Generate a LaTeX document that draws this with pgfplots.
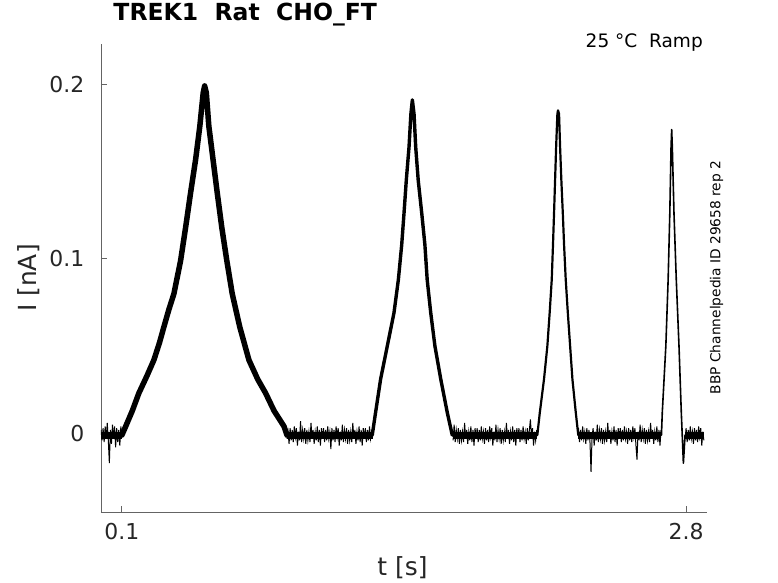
\documentclass[border=0pt]{standalone}
\usepackage{fontspec}
\setmainfont{DejaVu Sans}
\usepackage{pgfplots}
\pgfplotsset{compat=1.18}
\definecolor{axgray}{RGB}{100,100,100}
\definecolor{tickgray}{RGB}{38,38,38}
\begin{document}
\begin{tikzpicture}
\path[use as bounding box] (-101bp,-71bp) rectangle (677bp,512bp);
\begin{axis}[
  at={(0,0)}, anchor=south west,
  scale only axis, width=606bp, height=468bp,
  xmin=0, xmax=2.9, ymin=-0.045, ymax=0.223,
  axis lines*=left,
  axis line style={axgray, line width=0.8bp},
  tick align=inside,
  major tick length=6bp,
  tick style={axgray, line width=0.8bp},
  xtick={0.1,2.8}, ytick={0,0.1,0.2},
  xticklabels={0.1,2.8}, yticklabels={0,0.1,0.2},
  /pgf/number format/assume math mode=true,
  ticklabel style={font=\fontsize{22}{26}\selectfont, text=tickgray},
  xticklabel style={anchor=north, inner sep=0pt, yshift=-11.5bp},
  yticklabel style={anchor=east, inner sep=0pt, xshift=-16.5bp},
  xlabel={t [s]}, ylabel={I [nA]},
  label style={font=\fontsize{25}{30}\selectfont, text=tickgray, inner sep=0pt},
  xlabel style={at={(axis description cs:0.4975,-0.1186)}, anchor=center},
  ylabel style={at={(axis description cs:-0.1188,0.5)}, anchor=center},
  title={TREK1\ \ Rat\ \ CHO\_FT},
  title style={at={(axis description cs:0.0203,1.0385)}, anchor=base west, inner sep=0pt, font=\fontsize{23.6}{28}\selectfont\bfseries},
  unbounded coords=jump,
  clip=true,
]
% baseline core band
\addplot[black, line width=7bp] table {
0.000 -0.001
0.100 -0.001
0.102 nan
0.890 -0.001
1.300 -0.001
1.302 nan
1.685 -0.001
2.085 -0.001
2.087 nan
2.285 -0.001
2.680 -0.001
2.682 nan
2.795 -0.001
2.885 -0.001
};
% baseline noise segments
\addplot[black, line width=1bp] table {
0.000 0.002
0.005 -0.004
0.010 0.003
0.015 -0.005
0.020 0.004
0.025 -0.003
0.030 0.006
0.035 -0.004
0.040 -0.017
0.045 0.002
0.050 -0.006
0.055 0.005
0.060 -0.003
0.065 0.004
0.070 -0.008
0.075 0.003
0.080 -0.005
0.085 0.002
0.090 -0.007
0.095 0.004
0.100 -0.002
0.102 nan
0.890 -0.003
0.895 0.001
0.900 -0.006
0.905 0.003
0.910 -0.004
0.915 0.002
0.920 -0.005
0.925 0.004
0.930 -0.002
0.935 0.003
0.940 -0.007
0.945 0.001
0.950 -0.004
0.955 0.007
0.960 -0.005
0.965 0.002
0.970 -0.003
0.975 0.003
0.980 -0.006
0.985 0.002
0.990 -0.004
0.995 0.001
1.000 -0.005
1.005 0.006
1.010 -0.003
1.015 0.002
1.020 -0.006
1.025 0.001
1.030 -0.004
1.035 0.004
1.040 -0.005
1.045 0.002
1.050 -0.007
1.055 0.003
1.060 -0.003
1.065 0.003
1.070 -0.005
1.075 0.002
1.080 -0.004
1.085 0.004
1.090 -0.003
1.095 0.001
1.100 -0.009
1.105 0.003
1.110 -0.004
1.115 0.002
1.120 -0.005
1.125 0.004
1.130 -0.002
1.135 0.003
1.140 -0.007
1.145 0.001
1.150 -0.004
1.155 0.005
1.160 -0.005
1.165 0.002
1.170 -0.003
1.175 0.003
1.180 -0.006
1.185 0.002
1.190 -0.004
1.195 0.001
1.200 -0.005
1.205 0.006
1.210 -0.003
1.215 0.002
1.220 -0.006
1.225 0.001
1.230 -0.004
1.235 0.004
1.240 -0.005
1.245 0.002
1.250 -0.007
1.255 0.003
1.260 -0.003
1.265 0.003
1.270 -0.005
1.275 0.002
1.280 -0.004
1.285 0.004
1.290 -0.003
1.295 0.001
1.300 -0.002
1.302 nan
1.685 -0.004
1.690 0.005
1.695 -0.005
1.700 0.002
1.705 -0.003
1.710 0.003
1.715 -0.006
1.720 0.002
1.725 -0.004
1.730 0.001
1.735 -0.005
1.740 0.006
1.745 -0.003
1.750 0.002
1.755 -0.006
1.760 0.001
1.765 -0.004
1.770 0.004
1.775 -0.005
1.780 0.002
1.785 -0.007
1.790 0.003
1.795 -0.003
1.800 0.003
1.805 -0.005
1.810 0.002
1.815 -0.004
1.820 0.004
1.825 -0.003
1.830 0.001
1.835 -0.006
1.840 0.003
1.845 -0.004
1.850 0.002
1.855 -0.005
1.860 0.004
1.865 -0.002
1.870 0.003
1.875 -0.007
1.880 0.001
1.885 -0.004
1.890 0.005
1.895 -0.005
1.900 0.002
1.905 -0.003
1.910 0.003
1.915 -0.006
1.920 0.002
1.925 -0.004
1.930 0.001
1.935 -0.005
1.940 0.006
1.945 -0.003
1.950 0.002
1.955 -0.006
1.960 0.001
1.965 -0.004
1.970 0.004
1.975 -0.005
1.980 0.002
1.985 -0.007
1.990 0.003
1.995 -0.003
2.000 0.003
2.005 -0.005
2.010 0.002
2.015 -0.004
2.020 0.004
2.025 -0.003
2.030 0.001
2.035 -0.006
2.040 0.003
2.045 -0.004
2.050 0.002
2.055 0.008
2.060 -0.002
2.065 0.003
2.070 -0.007
2.075 0.001
2.080 -0.004
2.085 0.002
2.087 nan
2.285 0.003
2.290 -0.005
2.295 0.002
2.300 -0.004
2.305 0.004
2.310 -0.003
2.315 0.001
2.320 -0.006
2.325 0.003
2.330 -0.004
2.335 0.002
2.340 -0.005
2.345 -0.022
2.350 -0.002
2.355 0.003
2.360 -0.007
2.365 0.001
2.370 -0.004
2.375 0.005
2.380 -0.005
2.385 0.002
2.390 -0.003
2.395 0.003
2.400 -0.006
2.405 0.002
2.410 -0.004
2.415 0.001
2.420 -0.005
2.425 0.006
2.430 -0.003
2.435 0.002
2.440 -0.006
2.445 0.001
2.450 -0.004
2.455 0.004
2.460 -0.005
2.465 0.002
2.470 -0.007
2.475 0.003
2.480 -0.003
2.485 0.003
2.490 -0.005
2.495 0.002
2.500 -0.004
2.505 0.004
2.510 -0.003
2.515 0.001
2.520 -0.006
2.525 0.003
2.530 -0.004
2.535 0.002
2.540 -0.005
2.545 0.004
2.550 -0.002
2.555 0.003
2.560 -0.007
2.565 -0.015
2.570 0.001
2.575 -0.004
2.580 0.005
2.585 -0.005
2.590 0.002
2.595 -0.003
2.600 0.003
2.605 -0.006
2.610 0.002
2.615 -0.004
2.620 0.001
2.625 -0.005
2.630 0.006
2.635 -0.003
2.640 0.002
2.645 -0.006
2.650 0.001
2.655 -0.004
2.660 0.004
2.665 -0.005
2.670 0.002
2.675 -0.007
2.680 0.002
2.682 nan
2.795 -0.003
2.800 0.003
2.805 -0.005
2.810 0.002
2.815 -0.004
2.820 0.004
2.825 -0.003
2.830 0.001
2.835 -0.006
2.840 0.003
2.845 -0.004
2.850 0.002
2.855 -0.005
2.860 0.004
2.865 -0.002
2.870 0.003
2.875 -0.007
2.880 0.001
2.885 -0.004
};
% peak 1
\addplot[black, line width=5.5bp, line join=round, line cap=round] table {
0.100 -0.001
0.118 0.004
0.150 0.013
0.181 0.023
0.220 0.033
0.253 0.042
0.280 0.052
0.301 0.061
0.325 0.071
0.349 0.080
0.381 0.099
0.405 0.118
0.429 0.138
0.453 0.157
0.473 0.176
0.489 0.195
0.496 0.199
0.504 0.195
0.516 0.176
0.536 0.157
0.556 0.138
0.578 0.118
0.602 0.099
0.628 0.080
0.664 0.061
0.708 0.042
0.750 0.031
0.788 0.023
0.828 0.013
0.876 0.004
0.890 -0.001
};
% peak 2
\addplot[black, line width=3.4bp, line join=round, line cap=round] table {
1.298 -0.001
1.314 0.012
1.338 0.031
1.370 0.050
1.402 0.069
1.423 0.088
1.439 0.108
1.450 0.126
1.461 0.145
1.474 0.164
1.483 0.183
1.490 0.191
1.498 0.183
1.506 0.164
1.518 0.145
1.535 0.126
1.550 0.108
1.561 0.088
1.578 0.069
1.598 0.050
1.626 0.031
1.657 0.012
1.681 -0.001
};
% peak 3
\addplot[black, line width=2.2bp, line join=round, line cap=round] table {
2.088 -0.001
2.100 0.012
2.120 0.031
2.136 0.050
2.147 0.069
2.157 0.088
2.163 0.108
2.168 0.126
2.173 0.145
2.178 0.164
2.184 0.183
2.187 0.185
2.192 0.183
2.197 0.164
2.203 0.145
2.210 0.126
2.216 0.108
2.224 0.088
2.234 0.069
2.245 0.050
2.256 0.031
2.272 0.012
2.284 -0.001
};
% peak 4
\addplot[black, line width=1.6bp, line join=round, line cap=round] table {
2.682 -0.001
2.686 0.012
2.703 0.050
2.714 0.088
2.722 0.126
2.728 0.164
2.731 0.174
2.734 0.164
2.742 0.126
2.753 0.088
2.766 0.050
2.777 0.012
2.787 -0.017
2.795 -0.001
};
\end{axis}
\node[anchor=base east, inner sep=0pt, font=\fontsize{18.6}{22}\selectfont] at (602bp,464bp) {25 °C\ \ Ramp};
\node[rotate=90, anchor=center, inner sep=0pt, font=\fontsize{13.8}{16}\selectfont] at (615.5bp,234.5bp) {BBP Channelpedia ID 29658 rep 2};
\end{tikzpicture}
\end{document}
